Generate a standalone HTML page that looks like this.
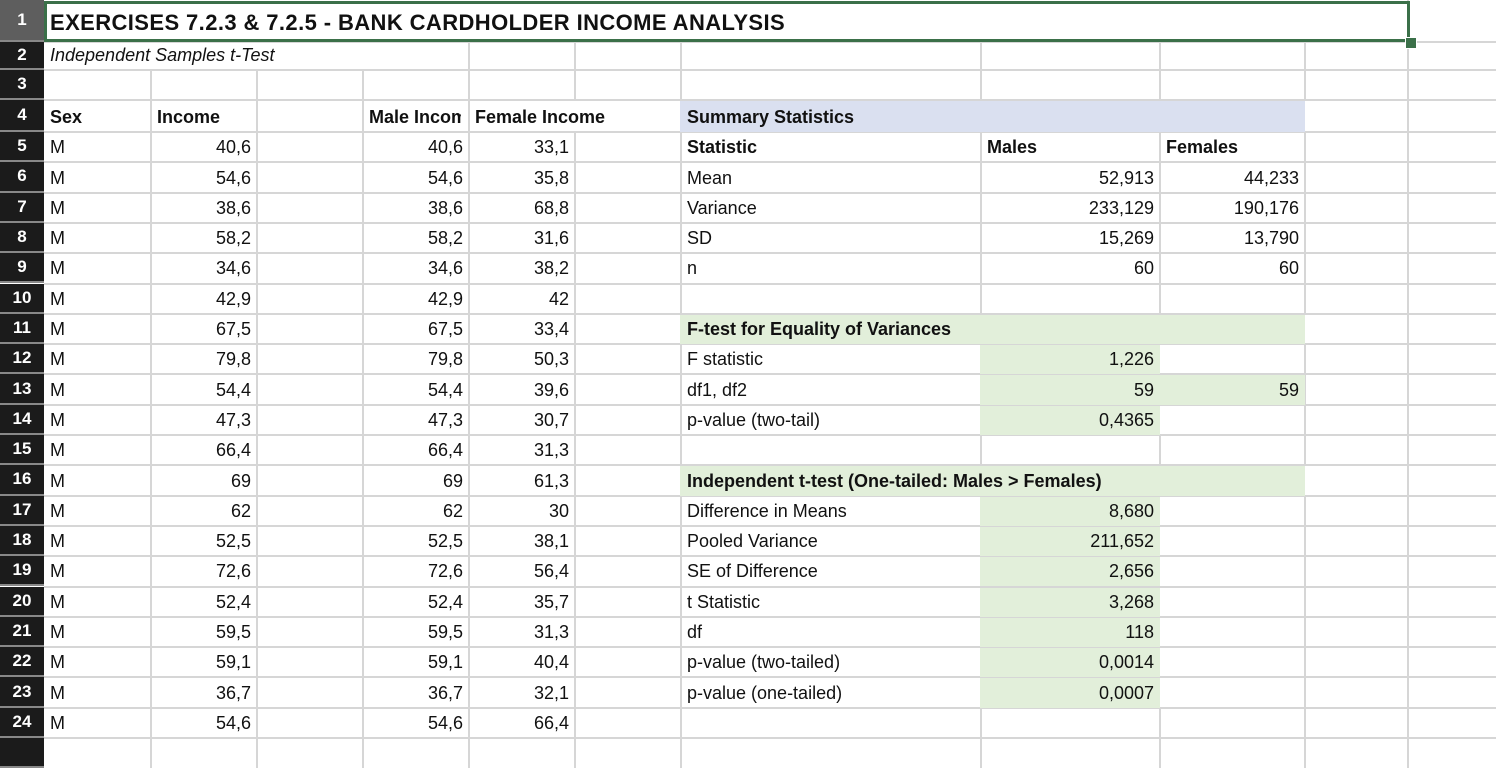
<!DOCTYPE html>
<html><head><meta charset="utf-8">
<style>
body{margin:0;width:1496px;height:744px;overflow:hidden;background:#fff;font-family:"Liberation Sans",sans-serif;position:relative}
.c{position:absolute;box-sizing:border-box;font-size:18px;color:#111;white-space:nowrap;overflow:visible;padding:0 6px;display:flex;align-items:flex-end;padding-bottom:4px}
.r{justify-content:flex-end}
.b{font-weight:bold}
.gl{position:absolute;background:#d6d6d6}
.hd{position:absolute;left:0;width:44px;background:#1b1b1b;color:#fff;font-size:17px;font-weight:bold;display:flex;align-items:center;justify-content:center;box-sizing:border-box;border-bottom:2px solid #888}
.fill{position:absolute}
</style></head><body>
<div id="grid"></div>
<script>
var colL=[44,151,257,363,469,575,681,981,1160,1305,1408,1496];
var sex=["M","M","M","M","M","M","M","M","M","M","M","M","M","M","M","M","M","M","M","M"];
var income=["40,6","54,6","38,6","58,2","34,6","42,9","67,5","79,8","54,4","47,3","66,4","69","62","52,5","72,6","52,4","59,5","59,1","36,7","54,6"];
var female=["33,1","35,8","68,8","31,6","38,2","42","33,4","50,3","39,6","30,7","31,3","61,3","30","38,1","56,4","35,7","31,3","40,4","32,1","66,4"];
var rowT=[0,42,70,100];
for(var i=0;i<22;i++)rowT.push(132+i*30.3);
var G=document.getElementById('grid');
function rTop(r){return rowT[r-1];}
function rH(r){return rowT[r]-rowT[r-1];}
function fill(c1,c2,r,color,name){var d=document.createElement('div');d.className='fill';
d.style.left=(colL[c1]-1)+'px';d.style.width=(colL[c2+1]-colL[c1]+1)+'px';d.style.top=(rTop(r)+1)+'px';d.style.height=(rH(r)-1)+'px';d.style.background=color;


G.appendChild(d);}
for(var r=2;r<=25;r++){var l=document.createElement('div');l.className='gl';l.style.left='44px';l.style.width='1452px';l.style.top=(rTop(r)-1)+'px';l.style.height='2px';


G.appendChild(l);}
var skip={2:[1,2,3],4:[5,7,8,9],11:[7,8,9],16:[7,8,9],1:[1,2,3,4,5,6,7,8,9]};
[12,13,14,17,18,19,20,21,22,23].forEach(function(r){skip[r]=[8];});
for(var r=1;r<=25;r++){for(var c=1;c<colL.length-1;c++){
 var s=skip[r]||[];if(s.indexOf(c)>=0)continue;
 var v=document.createElement('div');v.className='gl';v.style.left=(colL[c]-1)+'px';v.style.width='2px';v.style.top=rTop(r)+'px';v.style.height=rH(r)+'px';
 
 
 G.appendChild(v);}}
fill(6,8,4,'#dae0f0','summary-header-fill');
fill(6,8,11,'#e2efda','ftest-header-fill');
fill(6,8,16,'#e2efda','ttest-header-fill');
[12,13,14,17,18,19,20,21,22,23].forEach(function(r){fill(7,7,r,'#e2efda','result-fill');});
fill(8,8,13,'#e2efda','df2-fill');
for(var r=1;r<=25;r++){var d=document.createElement('div');d.className='hd';d.style.top=rTop(r)+'px';d.style.height=rH(r)+'px';d.textContent=r<25?r:'';
if(r===1)d.style.background='#5e5e5e';


G.appendChild(d);}
function cell(c,r,text,cls,name){var d=document.createElement('div');d.className='c '+(cls||'');
d.style.left=colL[c]+'px';d.style.width=(colL[c+1]-colL[c])+'px';d.style.top=rTop(r)+'px';d.style.height=rH(r)+'px';d.textContent=text;


G.appendChild(d);return d;}
var t=cell(0,1,'EXERCISES 7.2.3 & 7.2.5 - BANK CARDHOLDER INCOME ANALYSIS','b','sheet-title');t.style.fontSize='22px';t.style.letterSpacing='0.4px';t.style.paddingBottom='6px';
var s2=cell(0,2,'Independent Samples t-Test','','sheet-subtitle');s2.style.fontStyle='italic';
cell(0,4,'Sex','b','sex-header');cell(1,4,'Income','b','income-header');
var mi=cell(3,4,'Male Income','b','male-income-header');mi.style.overflow='hidden';mi.style.paddingRight='0';mi.style.width='98px';
cell(4,4,'Female Income','b','female-income-header');
cell(6,4,'Summary Statistics','b','summary-title');
for(var i=0;i<20;i++){cell(0,5+i,sex[i],'','sex-cell');cell(1,5+i,income[i],'r','income-cell');cell(3,5+i,income[i],'r','male-income-cell');cell(4,5+i,female[i],'r','female-income-cell');}
cell(6,5,'Statistic','b','statistic-header');cell(7,5,'Males','b','males-header');cell(8,5,'Females','b','females-header');
var st=[['Mean','52,913','44,233'],['Variance','233,129','190,176'],['SD','15,269','13,790'],['n','60','60']];
st.forEach(function(a,i){cell(6,6+i,a[0],'','stat-label');cell(7,6+i,a[1],'r','males-value');cell(8,6+i,a[2],'r','females-value');});
cell(6,11,'F-test for Equality of Variances','b','ftest-title');
cell(6,12,'F statistic','','f-stat-label');cell(7,12,'1,226','r','f-stat-value');
cell(6,13,'df1, df2','','df-label');cell(7,13,'59','r','df1-value');cell(8,13,'59','r','df2-value');
cell(6,14,'p-value (two-tail)','','f-pvalue-label');cell(7,14,'0,4365','r','f-pvalue-value');
cell(6,16,'Independent t-test (One-tailed: Males > Females)','b','ttest-title');
var tt=[['Difference in Means','8,680'],['Pooled Variance','211,652'],['SE of Difference','2,656'],['t Statistic','3,268'],['df','118'],['p-value (two-tailed)','0,0014'],['p-value (one-tailed)','0,0007']];
tt.forEach(function(a,i){cell(6,17+i,a[0],'','ttest-label');cell(7,17+i,a[1],'r','ttest-value');});
var sel=document.createElement('div');sel.style.cssText='position:absolute;left:44px;top:1px;width:1366px;height:41px;border:3px solid #3b7049;box-sizing:border-box;';


G.appendChild(sel);
var hnd=document.createElement('div');hnd.style.cssText='position:absolute;left:1405px;top:37px;width:10px;height:10px;background:#3b7049;border:1px solid #fff;';


G.appendChild(hnd);
</script>
</body></html>
